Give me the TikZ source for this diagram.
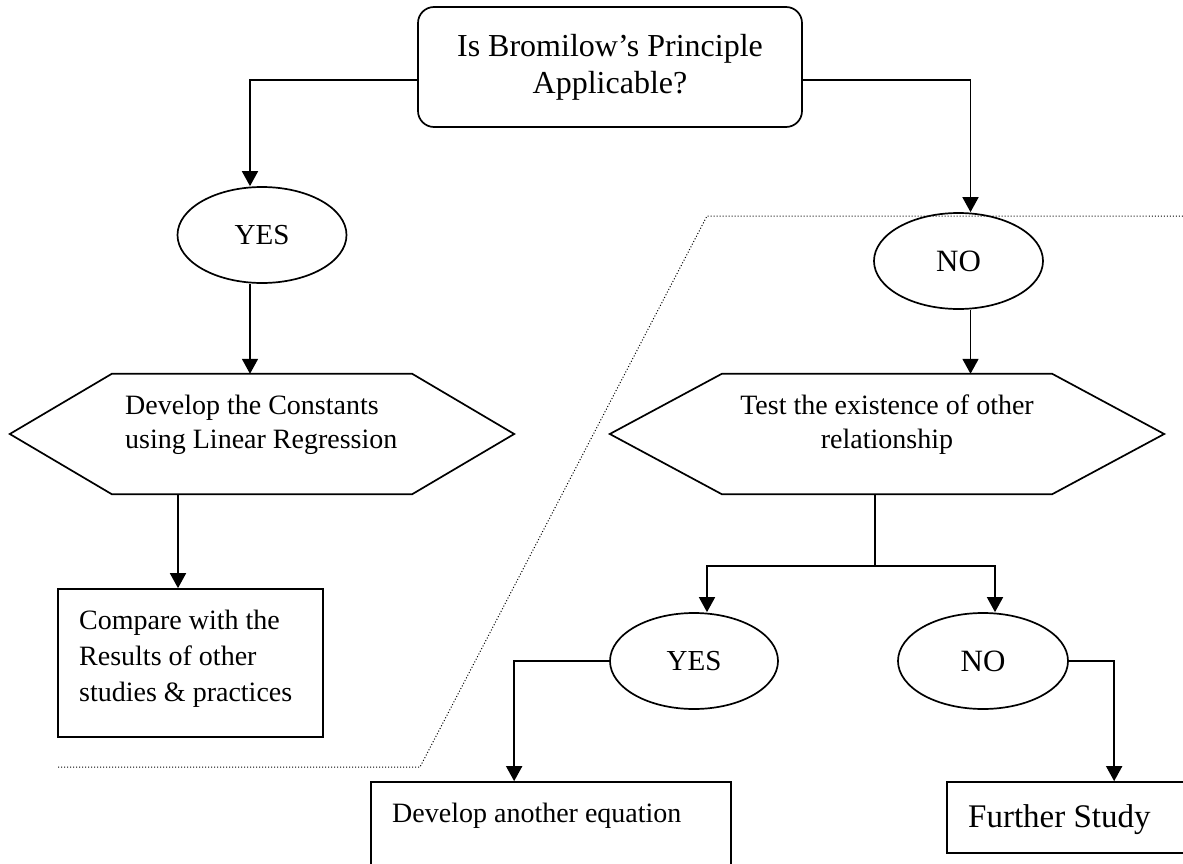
\documentclass[tikz,border=0pt]{standalone}
\usepackage{fontspec}
\setmainfont{Liberation Serif}
\usetikzlibrary{arrows.meta,calc,shapes.geometric}

\tikzset{
  conn/.style={line width=1.7pt, draw=black},
  arrowconn/.style={conn, -{Triangle[length=15pt,width=16pt]}},
  roundbox/.style={draw, line width=1.7pt, rounded corners=16pt, inner sep=0pt},
  plainbox/.style={draw, line width=1.7pt, inner sep=0pt},
  hexframe/.style={inner sep=0pt, minimum height=120pt},
  answer/.style={draw, ellipse, line width=1.7pt, inner sep=0pt,
                 minimum width=169pt, minimum height=96pt},
  bodytext/.style={inner sep=0pt, font=\fontsize{28}{34}\selectfont},
  hexline/.style={line width=1.7pt, line join=miter},
  boundary/.style={line width=1pt, dash pattern=on 1pt off 2pt},
}

\newcommand{\hexagonpath}[2]{%
  \draw[hexline] (#1.west) -- ($(#1.north west)+(#2,0)$) -- ($(#1.north east)+(-#2,0)$)
    -- (#1.east) -- ($(#1.south east)+(-#2,0)$) -- ($(#1.south west)+(#2,0)$) -- cycle;}

\begin{document}
\begin{tikzpicture}[x=1pt,y=-1pt]
\useasboundingbox (0,0) rectangle (1183,864);
\clip (0,0) rectangle (1183,864);

% question at the top
\node[roundbox, minimum width=384pt, minimum height=120pt,
      align=center, font=\fontsize{32}{37}\selectfont] (question) at (610,67)
  {Is Bromilow’s Principle\\Applicable?};

% first level answers
\node[answer, font=\fontsize{29}{31}\selectfont] (yesA) at (262,235) {YES};
\node[answer, font=\fontsize{31}{33}\selectfont] (noA) at (958.5,261) {NO};

% left branch
\node[hexframe, minimum width=504pt] (hexL) at (262,434) {};
\hexagonpath{hexL}{102}
\node[bodytext, align=left, anchor=west] (hexLtext) at (125,425)
  {Develop the Constants\\using Linear Regression};

\node[plainbox, minimum width=265pt, minimum height=148pt] (compare) at (190.5,663) {};
\node[bodytext, align=left, anchor=west, font=\fontsize{28}{36}\selectfont]
  (comparetext) at (79,659) {Compare with the\\Results of other\\studies \& practices};

% right branch
\node[hexframe, minimum width=554pt] (hexR) at (887,434) {};
\hexagonpath{hexR}{112}
\node[bodytext, align=center] (hexRtext) at (887,425)
  {Test the existence of other\\relationship};

\node[answer, font=\fontsize{29}{31}\selectfont, minimum width=168pt] (yesB) at (694,661) {YES};
\node[answer, font=\fontsize{31}{33}\selectfont, minimum width=170pt] (noB) at (983,661) {NO};

\node[plainbox, minimum width=360pt, minimum height=118pt] (another) at (551,841) {};
\node[bodytext, anchor=west] (anothertext) at (392,816) {Develop another equation};

\node[plainbox, minimum width=248pt, minimum height=71pt] (further) at (1071,817.5) {};
\node[inner sep=0pt, anchor=west, font=\fontsize{33}{36}\selectfont] (furthertext)
  at (968,820) {Further Study};

% connector end points
\coordinate (qL) at ($(question.west)+(0,13)$);
\coordinate (qR) at ($(question.east)+(0,13)$);
\coordinate (yesAin) at ($(yesA.north)+(-12,0)$);
\coordinate (yesAout) at ($(yesA.south)+(-12,0)$);
\coordinate (noAin) at ($(noA.north)+(12,0)$);
\coordinate (noAout) at ($(noA.south)+(12,0)$);
\coordinate (compareIn) at ($(compare.north)+(-12.5,0)$);
\coordinate (hexRout) at ($(hexR.south)+(-12,0)$);
\coordinate (split) at ($(hexR.south)+(-12,72)$);
\coordinate (yesBin) at ($(yesB.north)+(13,0)$);
\coordinate (noBin) at ($(noB.north)+(12,0)$);
\coordinate (anotherIn) at ($(another.north west)+(144,0)$);
\coordinate (furtherIn) at ($(further.north west)+(168,0)$);

% connectors
\draw[arrowconn] (qL) -| (yesAin);
\draw[arrowconn] (qR) -| (noAin);

\draw[arrowconn] (yesAout) -- (yesAout |- hexL.north);
\draw[arrowconn] (compareIn |- hexL.south) -- (compareIn);

\draw[arrowconn] (noAout) -- (noAout |- hexR.north);

\draw[conn] (hexRout) -- (split);
\draw[arrowconn] (split) -| (yesBin);
\draw[arrowconn] (split) -| (noBin);

\draw[arrowconn] (yesB.west) -| (anotherIn);
\draw[arrowconn] (noB.east) -| (furtherIn);

% dotted boundary between the two branches
\draw[boundary] (58,767) -- (420,767) -- (707,216) -- (1190,216);
\end{tikzpicture}
\end{document}
